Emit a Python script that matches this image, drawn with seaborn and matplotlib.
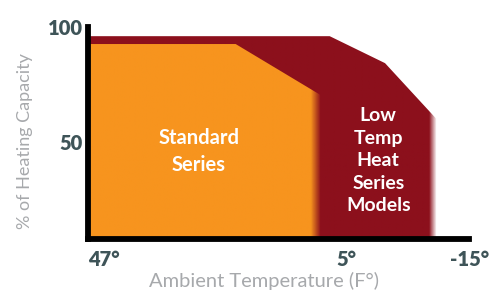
import numpy as np
import matplotlib
matplotlib.use('Agg')
import matplotlib.pyplot as plt
import seaborn as sns
from matplotlib.colors import to_rgb

# heating capacity curves (% of capacity vs ambient temp in F)
std_temps = [47, 23, 9.2]
std_capacity = [92.6, 92.6, 70.5]
low_temps = [47, 7.7, -1.3, -9.7]
low_capacity = [96, 96, 84.3, 60]

x_ticks = [47, 5, -15]
x_labels = ['47°', '5°', '-15°']
y_ticks = [50, 100]
y_labels = ['50', '100']

orange = '#F7941E'
darkred = '#8C101C'
tick_col = '#3E5458'
label_col = '#A7A9AC'

sns.set_theme(style='white')
plt.rcParams['font.family'] = ['Lato', 'DejaVu Sans']

fig = plt.figure(figsize=(4.95, 2.93), dpi=100)
ax = fig.add_axes([0.178, 0.184, 0.770, 0.724])

y_bottom = 0


def faded_area(xs, ys, color, fade_width, zorder):
    # invisible polygon used as clip path for a gradient image
    poly = ax.fill_between(xs, y_bottom, ys, color='none', lw=0)
    x0, x1 = xs[0], xs[-1]
    n = 400
    cols = np.linspace(x0, x1, n)
    alpha = np.clip((cols - x1) / fade_width, 0, 1)
    rgba = np.zeros((1, n, 4))
    rgba[0, :, :3] = to_rgb(color)
    rgba[0, :, 3] = alpha
    im = ax.imshow(rgba, extent=(x0, x1, y_bottom, 100), aspect='auto',
                   interpolation='bilinear', zorder=zorder)
    im.set_clip_path(poly.get_paths()[0], transform=ax.transData)


faded_area(low_temps, low_capacity, darkred, 1.2, 1)
faded_area(std_temps, std_capacity, orange, 1.6, 2)

ax.set_xlim(47, -15)
ax.set_ylim(8, 100)
ax.set_aspect('auto')

ax.set_xticks(x_ticks)
ax.set_xticklabels(x_labels)
ax.set_yticks(y_ticks)
ax.set_yticklabels(y_labels)
ax.tick_params(axis='both', length=0, labelsize=14.5, labelcolor=tick_col)
ax.tick_params(axis='x', pad=8)
ax.tick_params(axis='y', pad=4)
for lab in ax.get_xticklabels() + ax.get_yticklabels():
    lab.set_fontweight('heavy')
ax.get_xticklabels()[0].set_ha('left')

for s in ['top', 'right']:
    ax.spines[s].set_visible(False)
for s in ['left', 'bottom']:
    ax.spines[s].set_color('black')
    ax.spines[s].set_linewidth(4.2)
    ax.spines[s].set_zorder(5)

ax.set_xlabel('Ambient Temperature (F°)', fontsize=14.5, color=label_col)
ax.set_ylabel('% of Heating Capacity', fontsize=13, color=label_col)
ax.xaxis.set_label_coords(0.462, -0.155)
ax.yaxis.set_label_coords(-0.145, 0.46)

ax.text(29, 46, 'Standard\nSeries', color='white', fontsize=14.5,
        fontweight='bold', ha='center', va='center', linespacing=1.4, zorder=6)
ax.text(-0.2, 42, 'Low\nTemp\nHeat\nSeries\nModels', color='white', fontsize=14,
        fontweight='bold', ha='center', va='center', linespacing=1.4, zorder=6)

fig.savefig('out.png', dpi=100)
